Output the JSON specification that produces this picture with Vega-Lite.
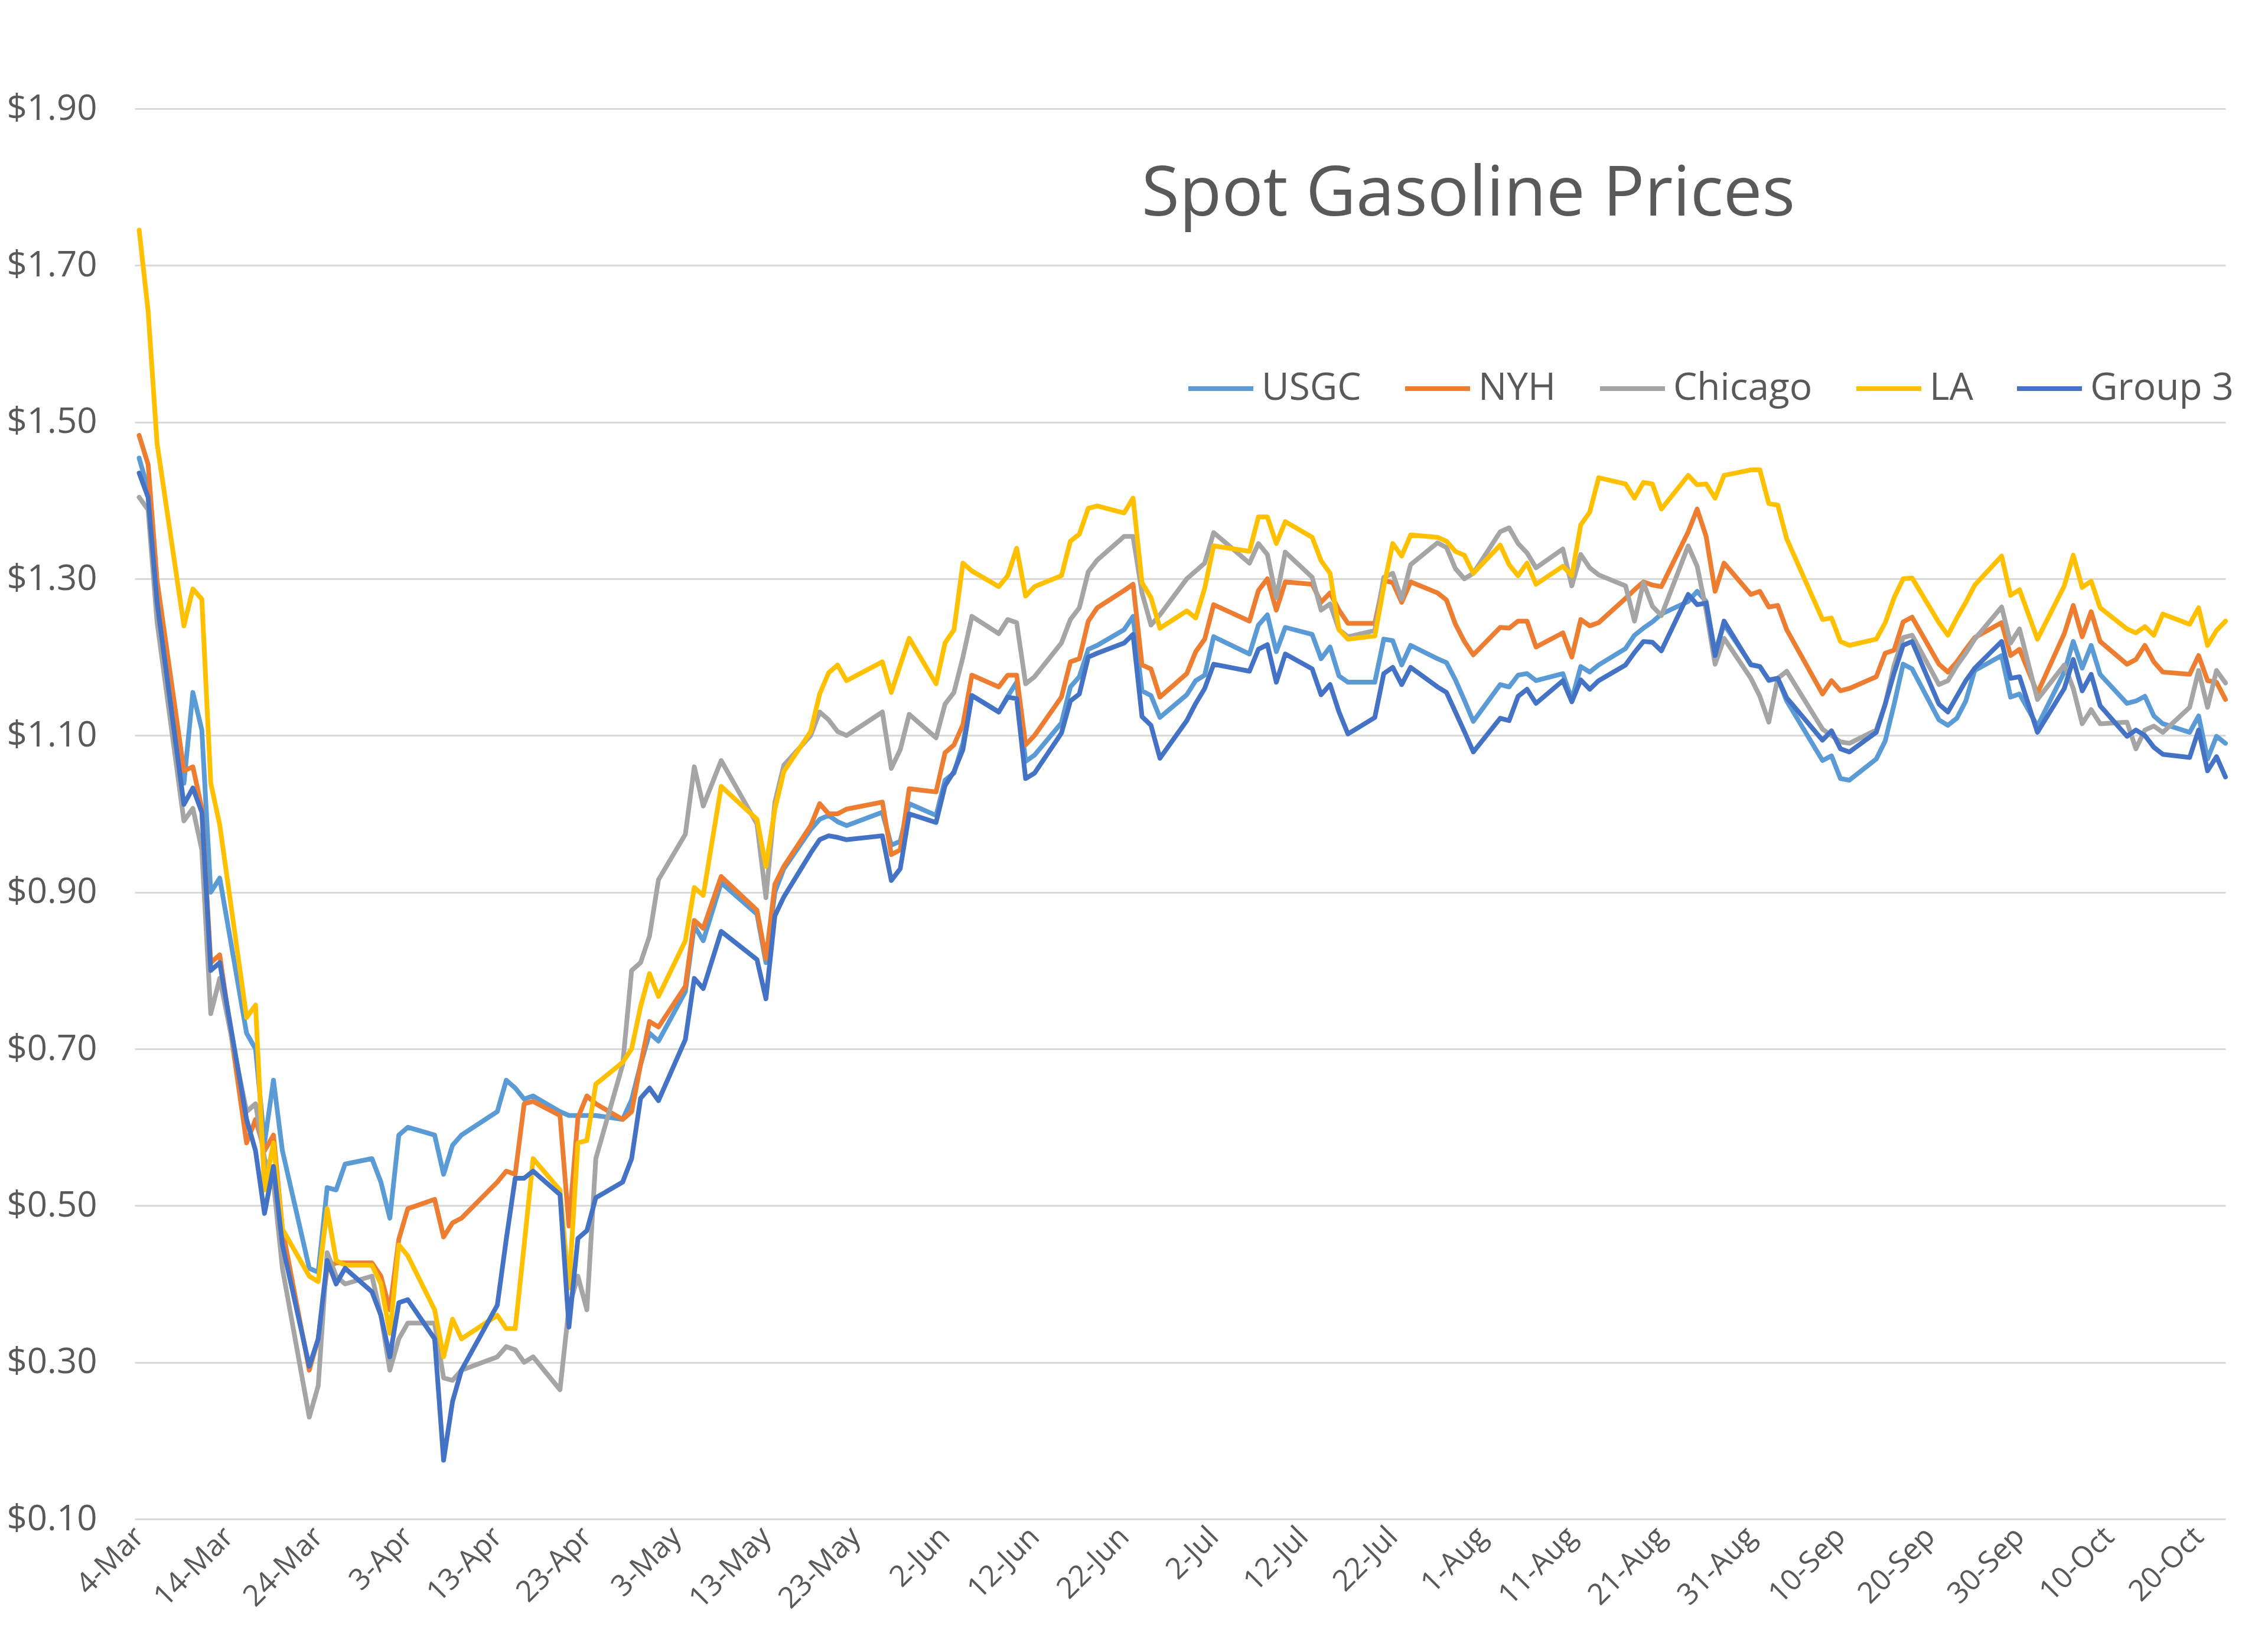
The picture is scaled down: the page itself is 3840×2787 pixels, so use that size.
{
  "$schema": "https://vega.github.io/schema/vega-lite/v6.json",
  "width": 3540,
  "height": 2388,
  "autosize": {"type": "none"},
  "padding": {"left": 228, "top": 184, "right": 72, "bottom": 215},
  "background": "white",
  "config": {"view": {"stroke": null}},
  "title": {"text": "Spot Gasoline Prices", "font": "Open Sans", "fontSize": 117, "fontWeight": "normal", "color": "#595959", "anchor": "middle", "frame": "group", "baseline": "alphabetic", "offset": 0, "dx": 488, "dy": 328},
  "data": {"values": [
    {"d":"2020-03-04","USGC":1.454,"NYH":1.483,"Chicago":1.404,"LA":1.745,"Group 3":1.435},
    {"d":"2020-03-05","USGC":1.414,"NYH":1.446,"Chicago":1.388,"LA":1.642,"Group 3":1.404},
    {"d":"2020-03-06","USGC":1.28,"NYH":1.298,"Chicago":1.245,"LA":1.473,"Group 3":1.27},
    {"d":"2020-03-09","USGC":1.039,"NYH":1.055,"Chicago":0.991,"LA":1.24,"Group 3":1.012},
    {"d":"2020-03-10","USGC":1.155,"NYH":1.06,"Chicago":1.007,"LA":1.287,"Group 3":1.033},
    {"d":"2020-03-11","USGC":1.107,"NYH":1.007,"Chicago":0.954,"LA":1.274,"Group 3":1.002},
    {"d":"2020-03-12","USGC":0.9,"NYH":0.81,"Chicago":0.745,"LA":1.039,"Group 3":0.8},
    {"d":"2020-03-13","USGC":0.918,"NYH":0.82,"Chicago":0.79,"LA":0.986,"Group 3":0.81},
    {"d":"2020-03-16","USGC":0.72,"NYH":0.58,"Chicago":0.62,"LA":0.74,"Group 3":0.61},
    {"d":"2020-03-17","USGC":0.7,"NYH":0.61,"Chicago":0.63,"LA":0.756,"Group 3":0.57},
    {"d":"2020-03-18","USGC":0.58,"NYH":0.57,"Chicago":0.56,"LA":0.52,"Group 3":0.49},
    {"d":"2020-03-19","USGC":0.66,"NYH":0.59,"Chicago":0.53,"LA":0.58,"Group 3":0.55},
    {"d":"2020-03-20","USGC":0.57,"NYH":0.47,"Chicago":0.42,"LA":0.47,"Group 3":0.45},
    {"d":"2020-03-23","USGC":0.42,"NYH":0.29,"Chicago":0.23,"LA":0.41,"Group 3":0.295},
    {"d":"2020-03-24","USGC":0.415,"NYH":0.33,"Chicago":0.27,"LA":0.403,"Group 3":0.33},
    {"d":"2020-03-25","USGC":0.523,"NYH":0.42,"Chicago":0.44,"LA":0.496,"Group 3":0.43},
    {"d":"2020-03-26","USGC":0.52,"NYH":0.427,"Chicago":0.41,"LA":0.43,"Group 3":0.4},
    {"d":"2020-03-27","USGC":0.553,"NYH":0.427,"Chicago":0.4,"LA":0.424,"Group 3":0.42},
    {"d":"2020-03-30","USGC":0.56,"NYH":0.427,"Chicago":0.41,"LA":0.424,"Group 3":0.39},
    {"d":"2020-03-31","USGC":0.53,"NYH":0.41,"Chicago":0.36,"LA":0.4,"Group 3":0.36},
    {"d":"2020-04-01","USGC":0.484,"NYH":0.367,"Chicago":0.29,"LA":0.337,"Group 3":0.307},
    {"d":"2020-04-02","USGC":0.59,"NYH":0.457,"Chicago":0.33,"LA":0.45,"Group 3":0.376},
    {"d":"2020-04-03","USGC":0.6,"NYH":0.496,"Chicago":0.35,"LA":0.436,"Group 3":0.38},
    {"d":"2020-04-06","USGC":0.59,"NYH":0.508,"Chicago":0.35,"LA":0.367,"Group 3":0.33},
    {"d":"2020-04-07","USGC":0.54,"NYH":0.46,"Chicago":0.28,"LA":0.307,"Group 3":0.175},
    {"d":"2020-04-08","USGC":0.577,"NYH":0.478,"Chicago":0.277,"LA":0.355,"Group 3":0.25},
    {"d":"2020-04-09","USGC":0.59,"NYH":0.484,"Chicago":0.29,"LA":0.33,"Group 3":0.29},
    {"d":"2020-04-13","USGC":0.62,"NYH":0.53,"Chicago":0.307,"LA":0.36,"Group 3":0.373},
    {"d":"2020-04-14","USGC":0.66,"NYH":0.544,"Chicago":0.32,"LA":0.343,"Group 3":0.457},
    {"d":"2020-04-15","USGC":0.65,"NYH":0.54,"Chicago":0.316,"LA":0.343,"Group 3":0.535},
    {"d":"2020-04-16","USGC":0.636,"NYH":0.63,"Chicago":0.3,"LA":0.45,"Group 3":0.535},
    {"d":"2020-04-17","USGC":0.64,"NYH":0.633,"Chicago":0.307,"LA":0.56,"Group 3":0.544},
    {"d":"2020-04-20","USGC":0.62,"NYH":0.615,"Chicago":0.265,"LA":0.52,"Group 3":0.514},
    {"d":"2020-04-21","USGC":0.615,"NYH":0.474,"Chicago":0.37,"LA":0.395,"Group 3":0.345},
    {"d":"2020-04-22","USGC":0.615,"NYH":0.612,"Chicago":0.41,"LA":0.58,"Group 3":0.458},
    {"d":"2020-04-23","USGC":0.615,"NYH":0.64,"Chicago":0.367,"LA":0.583,"Group 3":0.468},
    {"d":"2020-04-24","USGC":0.615,"NYH":0.63,"Chicago":0.56,"LA":0.655,"Group 3":0.51},
    {"d":"2020-04-27","USGC":0.61,"NYH":0.61,"Chicago":0.68,"LA":0.683,"Group 3":0.53},
    {"d":"2020-04-28","USGC":0.635,"NYH":0.62,"Chicago":0.8,"LA":0.7,"Group 3":0.56},
    {"d":"2020-04-29","USGC":0.68,"NYH":0.68,"Chicago":0.81,"LA":0.754,"Group 3":0.637},
    {"d":"2020-04-30","USGC":0.72,"NYH":0.735,"Chicago":0.844,"LA":0.796,"Group 3":0.65},
    {"d":"2020-05-01","USGC":0.71,"NYH":0.728,"Chicago":0.916,"LA":0.767,"Group 3":0.634},
    {"d":"2020-05-04","USGC":0.773,"NYH":0.78,"Chicago":0.974,"LA":0.838,"Group 3":0.712},
    {"d":"2020-05-05","USGC":0.857,"NYH":0.864,"Chicago":1.06,"LA":0.906,"Group 3":0.79},
    {"d":"2020-05-06","USGC":0.838,"NYH":0.854,"Chicago":1.01,"LA":0.896,"Group 3":0.777},
    {"d":"2020-05-08","USGC":0.912,"NYH":0.92,"Chicago":1.068,"LA":1.035,"Group 3":0.85},
    {"d":"2020-05-12","USGC":0.872,"NYH":0.877,"Chicago":0.987,"LA":0.993,"Group 3":0.814},
    {"d":"2020-05-13","USGC":0.81,"NYH":0.815,"Chicago":0.893,"LA":0.933,"Group 3":0.764},
    {"d":"2020-05-14","USGC":0.9,"NYH":0.91,"Chicago":1.015,"LA":1.006,"Group 3":0.87},
    {"d":"2020-05-15","USGC":0.93,"NYH":0.933,"Chicago":1.062,"LA":1.054,"Group 3":0.894},
    {"d":"2020-05-18","USGC":0.98,"NYH":0.985,"Chicago":1.1,"LA":1.105,"Group 3":0.95},
    {"d":"2020-05-19","USGC":0.993,"NYH":1.013,"Chicago":1.13,"LA":1.153,"Group 3":0.967},
    {"d":"2020-05-20","USGC":0.998,"NYH":1.0,"Chicago":1.12,"LA":1.18,"Group 3":0.972},
    {"d":"2020-05-21","USGC":0.99,"NYH":1.0,"Chicago":1.105,"LA":1.19,"Group 3":0.97},
    {"d":"2020-05-22","USGC":0.985,"NYH":1.006,"Chicago":1.1,"LA":1.17,"Group 3":0.967},
    {"d":"2020-05-26","USGC":1.002,"NYH":1.015,"Chicago":1.13,"LA":1.194,"Group 3":0.972},
    {"d":"2020-05-27","USGC":0.96,"NYH":0.948,"Chicago":1.058,"LA":1.155,"Group 3":0.915},
    {"d":"2020-05-28","USGC":0.965,"NYH":0.954,"Chicago":1.082,"LA":1.19,"Group 3":0.93},
    {"d":"2020-05-29","USGC":1.013,"NYH":1.032,"Chicago":1.127,"LA":1.224,"Group 3":1.0},
    {"d":"2020-06-01","USGC":0.998,"NYH":1.028,"Chicago":1.097,"LA":1.166,"Group 3":0.989},
    {"d":"2020-06-02","USGC":1.043,"NYH":1.078,"Chicago":1.14,"LA":1.218,"Group 3":1.036},
    {"d":"2020-06-03","USGC":1.052,"NYH":1.088,"Chicago":1.155,"LA":1.235,"Group 3":1.054},
    {"d":"2020-06-04","USGC":1.09,"NYH":1.114,"Chicago":1.2,"LA":1.32,"Group 3":1.082},
    {"d":"2020-06-05","USGC":1.151,"NYH":1.177,"Chicago":1.252,"LA":1.31,"Group 3":1.151},
    {"d":"2020-06-08","USGC":1.13,"NYH":1.162,"Chicago":1.23,"LA":1.29,"Group 3":1.13},
    {"d":"2020-06-09","USGC":1.15,"NYH":1.177,"Chicago":1.248,"LA":1.304,"Group 3":1.149},
    {"d":"2020-06-10","USGC":1.168,"NYH":1.177,"Chicago":1.244,"LA":1.339,"Group 3":1.147},
    {"d":"2020-06-11","USGC":1.067,"NYH":1.088,"Chicago":1.166,"LA":1.278,"Group 3":1.045},
    {"d":"2020-06-12","USGC":1.075,"NYH":1.1,"Chicago":1.175,"LA":1.29,"Group 3":1.052},
    {"d":"2020-06-15","USGC":1.116,"NYH":1.149,"Chicago":1.218,"LA":1.304,"Group 3":1.103},
    {"d":"2020-06-16","USGC":1.162,"NYH":1.194,"Chicago":1.248,"LA":1.348,"Group 3":1.144},
    {"d":"2020-06-17","USGC":1.175,"NYH":1.198,"Chicago":1.263,"LA":1.357,"Group 3":1.153},
    {"d":"2020-06-18","USGC":1.21,"NYH":1.246,"Chicago":1.309,"LA":1.39,"Group 3":1.2},
    {"d":"2020-06-19","USGC":1.215,"NYH":1.263,"Chicago":1.324,"LA":1.393,"Group 3":1.205},
    {"d":"2020-06-22","USGC":1.235,"NYH":1.285,"Chicago":1.354,"LA":1.384,"Group 3":1.218},
    {"d":"2020-06-23","USGC":1.252,"NYH":1.293,"Chicago":1.354,"LA":1.403,"Group 3":1.229},
    {"d":"2020-06-24","USGC":1.157,"NYH":1.19,"Chicago":1.282,"LA":1.295,"Group 3":1.124},
    {"d":"2020-06-25","USGC":1.151,"NYH":1.185,"Chicago":1.241,"LA":1.276,"Group 3":1.113},
    {"d":"2020-06-26","USGC":1.123,"NYH":1.149,"Chicago":1.254,"LA":1.237,"Group 3":1.071},
    {"d":"2020-06-29","USGC":1.152,"NYH":1.179,"Chicago":1.3,"LA":1.259,"Group 3":1.119},
    {"d":"2020-06-30","USGC":1.17,"NYH":1.207,"Chicago":1.31,"LA":1.25,"Group 3":1.141},
    {"d":"2020-07-01","USGC":1.177,"NYH":1.223,"Chicago":1.32,"LA":1.288,"Group 3":1.16},
    {"d":"2020-07-02","USGC":1.226,"NYH":1.267,"Chicago":1.359,"LA":1.342,"Group 3":1.191},
    {"d":"2020-07-06","USGC":1.204,"NYH":1.246,"Chicago":1.32,"LA":1.335,"Group 3":1.182},
    {"d":"2020-07-07","USGC":1.241,"NYH":1.285,"Chicago":1.345,"LA":1.379,"Group 3":1.21},
    {"d":"2020-07-08","USGC":1.254,"NYH":1.3,"Chicago":1.331,"LA":1.379,"Group 3":1.216},
    {"d":"2020-07-09","USGC":1.207,"NYH":1.26,"Chicago":1.276,"LA":1.345,"Group 3":1.168},
    {"d":"2020-07-10","USGC":1.238,"NYH":1.296,"Chicago":1.334,"LA":1.373,"Group 3":1.204},
    {"d":"2020-07-13","USGC":1.229,"NYH":1.293,"Chicago":1.302,"LA":1.353,"Group 3":1.185},
    {"d":"2020-07-14","USGC":1.198,"NYH":1.27,"Chicago":1.26,"LA":1.323,"Group 3":1.152},
    {"d":"2020-07-15","USGC":1.213,"NYH":1.282,"Chicago":1.268,"LA":1.307,"Group 3":1.165},
    {"d":"2020-07-16","USGC":1.176,"NYH":1.26,"Chicago":1.235,"LA":1.235,"Group 3":1.13},
    {"d":"2020-07-17","USGC":1.168,"NYH":1.243,"Chicago":1.226,"LA":1.223,"Group 3":1.102},
    {"d":"2020-07-20","USGC":1.168,"NYH":1.243,"Chicago":1.234,"LA":1.227,"Group 3":1.123},
    {"d":"2020-07-21","USGC":1.223,"NYH":1.298,"Chicago":1.302,"LA":1.29,"Group 3":1.179},
    {"d":"2020-07-22","USGC":1.221,"NYH":1.295,"Chicago":1.307,"LA":1.345,"Group 3":1.187},
    {"d":"2020-07-23","USGC":1.19,"NYH":1.27,"Chicago":1.274,"LA":1.329,"Group 3":1.165},
    {"d":"2020-07-24","USGC":1.215,"NYH":1.296,"Chicago":1.318,"LA":1.356,"Group 3":1.187},
    {"d":"2020-07-27","USGC":1.198,"NYH":1.282,"Chicago":1.346,"LA":1.353,"Group 3":1.162},
    {"d":"2020-07-28","USGC":1.193,"NYH":1.273,"Chicago":1.34,"LA":1.348,"Group 3":1.155},
    {"d":"2020-07-29","USGC":1.171,"NYH":1.242,"Chicago":1.313,"LA":1.335,"Group 3":1.13},
    {"d":"2020-07-30","USGC":1.145,"NYH":1.22,"Chicago":1.3,"LA":1.33,"Group 3":1.105},
    {"d":"2020-07-31","USGC":1.118,"NYH":1.203,"Chicago":1.307,"LA":1.307,"Group 3":1.079},
    {"d":"2020-08-03","USGC":1.165,"NYH":1.238,"Chicago":1.36,"LA":1.343,"Group 3":1.122},
    {"d":"2020-08-04","USGC":1.162,"NYH":1.237,"Chicago":1.365,"LA":1.318,"Group 3":1.119},
    {"d":"2020-08-05","USGC":1.177,"NYH":1.246,"Chicago":1.345,"LA":1.304,"Group 3":1.15},
    {"d":"2020-08-06","USGC":1.179,"NYH":1.246,"Chicago":1.333,"LA":1.32,"Group 3":1.159},
    {"d":"2020-08-07","USGC":1.17,"NYH":1.213,"Chicago":1.314,"LA":1.293,"Group 3":1.141},
    {"d":"2020-08-10","USGC":1.179,"NYH":1.231,"Chicago":1.338,"LA":1.316,"Group 3":1.17},
    {"d":"2020-08-11","USGC":1.146,"NYH":1.2,"Chicago":1.291,"LA":1.304,"Group 3":1.143},
    {"d":"2020-08-12","USGC":1.188,"NYH":1.248,"Chicago":1.331,"LA":1.369,"Group 3":1.171},
    {"d":"2020-08-13","USGC":1.181,"NYH":1.24,"Chicago":1.314,"LA":1.385,"Group 3":1.159},
    {"d":"2020-08-14","USGC":1.19,"NYH":1.244,"Chicago":1.305,"LA":1.429,"Group 3":1.17},
    {"d":"2020-08-17","USGC":1.211,"NYH":1.275,"Chicago":1.291,"LA":1.421,"Group 3":1.19},
    {"d":"2020-08-18","USGC":1.228,"NYH":1.286,"Chicago":1.246,"LA":1.403,"Group 3":1.206},
    {"d":"2020-08-19","USGC":1.237,"NYH":1.296,"Chicago":1.295,"LA":1.423,"Group 3":1.22},
    {"d":"2020-08-20","USGC":1.245,"NYH":1.292,"Chicago":1.265,"LA":1.421,"Group 3":1.219},
    {"d":"2020-08-21","USGC":1.255,"NYH":1.29,"Chicago":1.253,"LA":1.389,"Group 3":1.208},
    {"d":"2020-08-24","USGC":1.271,"NYH":1.36,"Chicago":1.342,"LA":1.432,"Group 3":1.28},
    {"d":"2020-08-25","USGC":1.284,"NYH":1.389,"Chicago":1.316,"LA":1.42,"Group 3":1.267},
    {"d":"2020-08-26","USGC":1.271,"NYH":1.354,"Chicago":1.26,"LA":1.421,"Group 3":1.269},
    {"d":"2020-08-27","USGC":1.206,"NYH":1.284,"Chicago":1.191,"LA":1.403,"Group 3":1.202},
    {"d":"2020-08-28","USGC":1.242,"NYH":1.32,"Chicago":1.224,"LA":1.432,"Group 3":1.246},
    {"d":"2020-08-31","USGC":1.191,"NYH":1.28,"Chicago":1.173,"LA":1.439,"Group 3":1.19},
    {"d":"2020-09-01","USGC":1.188,"NYH":1.284,"Chicago":1.15,"LA":1.439,"Group 3":1.188},
    {"d":"2020-09-02","USGC":1.17,"NYH":1.264,"Chicago":1.117,"LA":1.396,"Group 3":1.171},
    {"d":"2020-09-03","USGC":1.173,"NYH":1.266,"Chicago":1.173,"LA":1.394,"Group 3":1.173},
    {"d":"2020-09-04","USGC":1.144,"NYH":1.235,"Chicago":1.182,"LA":1.351,"Group 3":1.148},
    {"d":"2020-09-08","USGC":1.068,"NYH":1.153,"Chicago":1.108,"LA":1.248,"Group 3":1.094},
    {"d":"2020-09-09","USGC":1.074,"NYH":1.17,"Chicago":1.1,"LA":1.25,"Group 3":1.106},
    {"d":"2020-09-10","USGC":1.045,"NYH":1.157,"Chicago":1.092,"LA":1.22,"Group 3":1.083},
    {"d":"2020-09-11","USGC":1.043,"NYH":1.16,"Chicago":1.09,"LA":1.215,"Group 3":1.079},
    {"d":"2020-09-14","USGC":1.07,"NYH":1.175,"Chicago":1.107,"LA":1.223,"Group 3":1.104},
    {"d":"2020-09-15","USGC":1.093,"NYH":1.205,"Chicago":1.14,"LA":1.244,"Group 3":1.14},
    {"d":"2020-09-16","USGC":1.14,"NYH":1.209,"Chicago":1.19,"LA":1.276,"Group 3":1.18},
    {"d":"2020-09-17","USGC":1.191,"NYH":1.245,"Chicago":1.225,"LA":1.3,"Group 3":1.215},
    {"d":"2020-09-18","USGC":1.185,"NYH":1.251,"Chicago":1.228,"LA":1.301,"Group 3":1.22},
    {"d":"2020-09-21","USGC":1.12,"NYH":1.191,"Chicago":1.165,"LA":1.244,"Group 3":1.14},
    {"d":"2020-09-22","USGC":1.113,"NYH":1.181,"Chicago":1.17,"LA":1.228,"Group 3":1.13},
    {"d":"2020-09-23","USGC":1.122,"NYH":1.194,"Chicago":1.189,"LA":1.25,"Group 3":1.15},
    {"d":"2020-09-24","USGC":1.144,"NYH":1.21,"Chicago":1.205,"LA":1.27,"Group 3":1.17},
    {"d":"2020-09-25","USGC":1.183,"NYH":1.225,"Chicago":1.223,"LA":1.292,"Group 3":1.186},
    {"d":"2020-09-28","USGC":1.202,"NYH":1.244,"Chicago":1.264,"LA":1.329,"Group 3":1.22},
    {"d":"2020-09-29","USGC":1.149,"NYH":1.202,"Chicago":1.218,"LA":1.279,"Group 3":1.173},
    {"d":"2020-09-30","USGC":1.153,"NYH":1.21,"Chicago":1.236,"LA":1.286,"Group 3":1.175},
    {"d":"2020-10-02","USGC":1.112,"NYH":1.154,"Chicago":1.146,"LA":1.223,"Group 3":1.104},
    {"d":"2020-10-05","USGC":1.181,"NYH":1.23,"Chicago":1.19,"LA":1.291,"Group 3":1.16},
    {"d":"2020-10-06","USGC":1.22,"NYH":1.266,"Chicago":1.16,"LA":1.33,"Group 3":1.197},
    {"d":"2020-10-07","USGC":1.186,"NYH":1.226,"Chicago":1.115,"LA":1.289,"Group 3":1.157},
    {"d":"2020-10-08","USGC":1.215,"NYH":1.258,"Chicago":1.133,"LA":1.297,"Group 3":1.178},
    {"d":"2020-10-09","USGC":1.178,"NYH":1.22,"Chicago":1.115,"LA":1.263,"Group 3":1.138},
    {"d":"2020-10-12","USGC":1.141,"NYH":1.191,"Chicago":1.117,"LA":1.236,"Group 3":1.099},
    {"d":"2020-10-13","USGC":1.144,"NYH":1.197,"Chicago":1.083,"LA":1.231,"Group 3":1.107},
    {"d":"2020-10-14","USGC":1.15,"NYH":1.215,"Chicago":1.107,"LA":1.239,"Group 3":1.1},
    {"d":"2020-10-15","USGC":1.125,"NYH":1.194,"Chicago":1.112,"LA":1.228,"Group 3":1.085},
    {"d":"2020-10-16","USGC":1.115,"NYH":1.181,"Chicago":1.104,"LA":1.255,"Group 3":1.076},
    {"d":"2020-10-19","USGC":1.104,"NYH":1.178,"Chicago":1.136,"LA":1.242,"Group 3":1.072},
    {"d":"2020-10-20","USGC":1.125,"NYH":1.202,"Chicago":1.183,"LA":1.263,"Group 3":1.107},
    {"d":"2020-10-21","USGC":1.07,"NYH":1.17,"Chicago":1.136,"LA":1.215,"Group 3":1.055},
    {"d":"2020-10-22","USGC":1.099,"NYH":1.168,"Chicago":1.183,"LA":1.234,"Group 3":1.073},
    {"d":"2020-10-23","USGC":1.09,"NYH":1.146,"Chicago":1.167,"LA":1.246,"Group 3":1.047}
  ]},
  "transform": [{"fold": ["USGC", "NYH", "Chicago", "LA", "Group 3"], "as": ["series", "price"]}],
  "mark": {"type": "line", "strokeWidth": 8, "strokeJoin": "round", "strokeCap": "round"},
  "encoding": {
    "x": {
      "field": "d",
      "type": "temporal",
      "scale": {"type": "utc", "domain": [{"year": 2020, "month": 3, "date": 3, "hours": 12, "utc": true}, {"year": 2020, "month": 10, "date": 23, "utc": true}]},
      "axis": {
        "title": null,
        "values": [
          {"year": 2020, "month": 3, "date": 4, "utc": true},
          {"year": 2020, "month": 3, "date": 14, "utc": true},
          {"year": 2020, "month": 3, "date": 24, "utc": true},
          {"year": 2020, "month": 4, "date": 3, "utc": true},
          {"year": 2020, "month": 4, "date": 13, "utc": true},
          {"year": 2020, "month": 4, "date": 23, "utc": true},
          {"year": 2020, "month": 5, "date": 3, "utc": true},
          {"year": 2020, "month": 5, "date": 13, "utc": true},
          {"year": 2020, "month": 5, "date": 23, "utc": true},
          {"year": 2020, "month": 6, "date": 2, "utc": true},
          {"year": 2020, "month": 6, "date": 12, "utc": true},
          {"year": 2020, "month": 6, "date": 22, "utc": true},
          {"year": 2020, "month": 7, "date": 2, "utc": true},
          {"year": 2020, "month": 7, "date": 12, "utc": true},
          {"year": 2020, "month": 7, "date": 22, "utc": true},
          {"year": 2020, "month": 8, "date": 1, "utc": true},
          {"year": 2020, "month": 8, "date": 11, "utc": true},
          {"year": 2020, "month": 8, "date": 21, "utc": true},
          {"year": 2020, "month": 8, "date": 31, "utc": true},
          {"year": 2020, "month": 9, "date": 10, "utc": true},
          {"year": 2020, "month": 9, "date": 20, "utc": true},
          {"year": 2020, "month": 9, "date": 30, "utc": true},
          {"year": 2020, "month": 10, "date": 10, "utc": true},
          {"year": 2020, "month": 10, "date": 20, "utc": true}
        ],
        "labelExpr": "utcFormat(datum.value, '%-d-%b')",
        "labelAngle": -45,
        "labelAlign": "right",
        "labelBaseline": "middle",
        "labelFont": "Open Sans",
        "labelFontSize": 50,
        "labelColor": "#595959",
        "labelPadding": 22,
        "labelOverlap": false,
        "labelBound": false,
        "labelFlush": false,
        "ticks": false,
        "domain": false,
        "grid": false
      }
    },
    "y": {
      "field": "price",
      "type": "quantitative",
      "scale": {"domain": [0.1, 1.9], "nice": false, "zero": false},
      "axis": {
        "title": null,
        "values": [0.1, 0.3, 0.5, 0.7, 0.9, 1.1, 1.3, 1.5, 1.7, 1.9],
        "format": "$.2f",
        "labelFont": "Open Sans",
        "labelFontSize": 60,
        "labelColor": "#595959",
        "labelPadding": 64,
        "ticks": false,
        "domain": false,
        "grid": true,
        "gridColor": "#D9D9D9",
        "gridWidth": 3
      }
    },
    "color": {
      "field": "series",
      "type": "nominal",
      "scale": {"domain": ["USGC", "NYH", "Chicago", "LA", "Group 3"], "range": ["#5B9BD5", "#ED7D31", "#A5A5A5", "#FFC000", "#4472C4"]},
      "legend": {
        "orient": "none",
        "legendX": 1780,
        "legendY": 415,
        "direction": "horizontal",
        "title": null,
        "symbolType": "stroke",
        "symbolSize": 12100,
        "symbolStrokeWidth": 8,
        "labelFont": "Open Sans",
        "labelFontSize": 64,
        "labelColor": "#595959",
        "labelOffset": 10,
        "labelLimit": 0,
        "columnPadding": 58
      }
    }
  }
}
